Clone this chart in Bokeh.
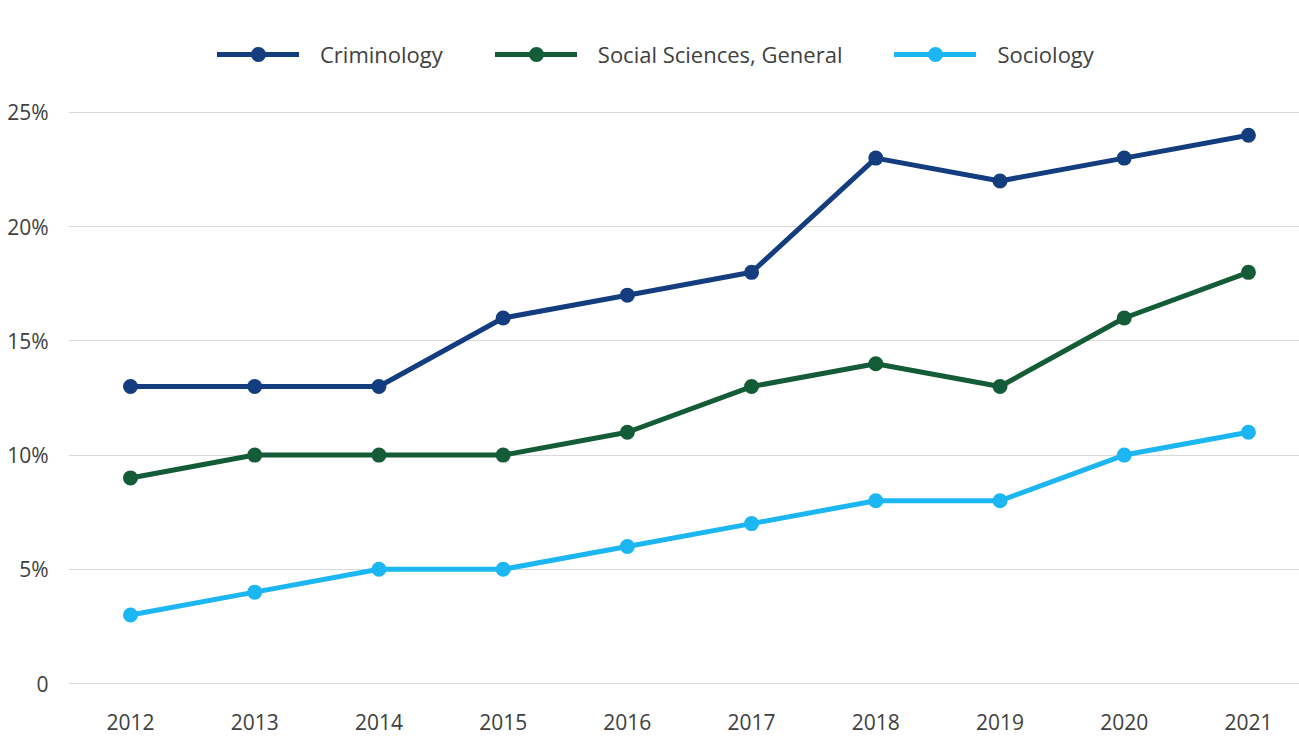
from bokeh.plotting import figure
from bokeh.models import Range1d, FixedTicker, Legend, LegendItem
from bokeh.embed import file_html
from bokeh.resources import INLINE

years = [2012, 2013, 2014, 2015, 2016, 2017, 2018, 2019, 2020, 2021]
criminology = [13, 13, 13, 16, 17, 18, 23, 22, 23, 24]
social_sciences = [9, 10, 10, 10, 11, 13, 14, 13, 16, 18]
sociology = [3, 4, 5, 5, 6, 7, 8, 8, 10, 11]
series_names = ["Criminology", "Social Sciences, General", "Sociology"]
series_colors = ["#143d80", "#145c37", "#1cb6f2"]
y_ticks = [0, 5, 10, 15, 20, 25]
y_tick_labels = ["0", "5%", "10%", "15%", "20%", "25%"]

FONT = "Open Sans"
TXT = "#404040"

p = figure(width=1299, height=736, output_backend="svg", toolbar_location=None,
           x_range=Range1d(2011.5009, 2021.411), y_range=Range1d(-2.32, 29.90),
           min_border_left=68, min_border_right=0, min_border_top=0, min_border_bottom=0)
p.outline_line_color = None
p.background_fill_color = "white"
p.border_fill_color = "white"

items = []
for name, vals, col in zip(series_names, [criminology, social_sciences, sociology], series_colors):
    lr = p.line(years, vals, line_color=col, line_width=5, line_join="round", line_cap="round")
    sr = p.scatter(years, vals, size=15, fill_color=col, line_color=col, line_width=0)
    items.append(LegendItem(label=name, renderers=[lr, sr]))

legend = Legend(items=items, orientation="horizontal", location=(149, 663),
                glyph_width=82, glyph_height=38, label_standoff=21, spacing=52,
                padding=0, margin=0, border_line_color=None, background_fill_alpha=0,
                label_text_font=FONT, label_text_font_size="22px", label_text_color=TXT)
p.add_layout(legend, "center")

p.xaxis.fixed_location = 0
p.xaxis.ticker = FixedTicker(ticks=years)
p.xaxis.axis_line_color = None
p.xaxis.major_tick_line_color = None
p.xaxis.minor_tick_line_color = None
p.xaxis.major_tick_out = 0
p.xaxis.major_tick_in = 0
p.xaxis.major_label_standoff = 30
p.xaxis.major_label_text_font = FONT
p.xaxis.major_label_text_font_size = "21px"
p.xaxis.major_label_text_color = TXT

p.yaxis.ticker = FixedTicker(ticks=y_ticks)
p.yaxis.major_label_overrides = {t: l for t, l in zip(y_ticks, y_tick_labels)}
p.yaxis.axis_line_color = None
p.yaxis.major_tick_line_color = None
p.yaxis.minor_tick_line_color = None
p.yaxis.major_tick_out = 0
p.yaxis.major_label_standoff = 20
p.yaxis.major_label_text_font = FONT
p.yaxis.major_label_text_font_size = "21px"
p.yaxis.major_label_text_color = TXT

p.xgrid.grid_line_color = None
p.ygrid.grid_line_color = "#d9d9d9"
p.ygrid.grid_line_width = 1

open("out.html", "w").write(file_html(p, INLINE))
